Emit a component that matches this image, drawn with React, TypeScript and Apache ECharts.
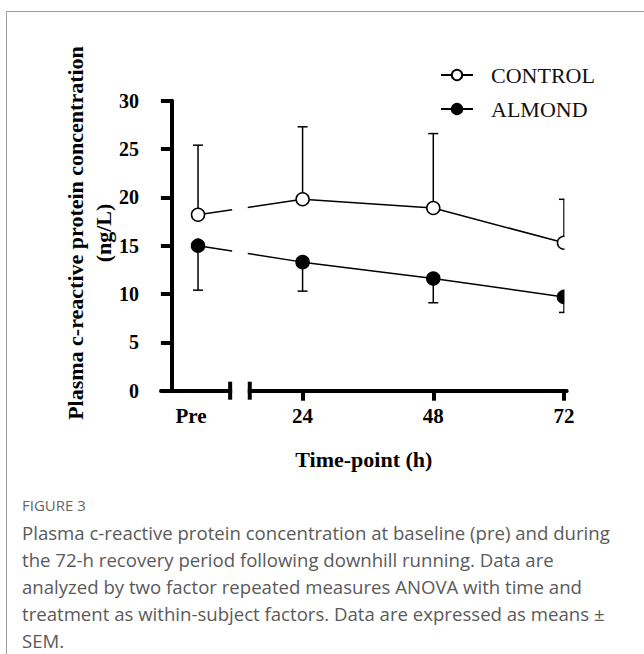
import React, { useEffect, useRef } from 'react';
import * as echarts from 'echarts';

// ---- data ----
const categories = ['Pre', '24', '48', '72'];
// position of each time-point on the broken time axis (Pre sits left of the break)
const timeCoords = [4.8, 24, 48, 72];
const controlMean = [18.2, 19.8, 18.9, 15.3];
const controlSem = [7.2, 7.5, 7.7, 4.5];
const almondMean = [15.0, 13.3, 11.6, 9.7];
const almondSem = [4.6, 3.0, 2.5, 1.6];
const yMin = 0;
const yMax = 30;
const yStep = 5;
const axisBreak = [10.7, 14.3];
const seriesNames = ['CONTROL', 'ALMOND'];
const yTitle = ['Plasma c-reactive protein concentration', '(ng/L)'];
const xTitle = 'Time-point (h)';
const figureLabel = 'FIGURE 3';
const captionLines = [
  'Plasma c-reactive protein concentration at baseline (pre) and during',
  'the 72-h recovery period following downhill running. Data are',
  'analyzed by two factor repeated measures ANOVA with time and',
  'treatment as within-subject factors. Data are expressed as means \u00b1',
  'SEM.',
];

const SERIF = '"Liberation Serif", "Times New Roman", serif';
const SANS = '"Open Sans", "Noto Sans", sans-serif';

function errorBarSeries(name: string, mean: number[], sem: number[], dir: 1 | -1) {
  return {
    name,
    type: 'custom',
    z: 2,
    silent: true,
    data: timeCoords.map((x, i) => [x, mean[i], mean[i] + dir * sem[i]]),
    renderItem: (params: any, api: any) => {
      const x = api.value(0);
      const p0 = api.coord([x, api.value(1)]);
      const p1 = api.coord([x, api.value(2)]);
      const style = { stroke: '#000', lineWidth: 1.5 };
      return {
        type: 'group',
        children: [
          { type: 'line', shape: { x1: p0[0], y1: p0[1], x2: p1[0], y2: p1[1] }, style },
          { type: 'line', shape: { x1: p1[0] - 5, y1: p1[1], x2: p1[0] + 5, y2: p1[1] }, style },
        ],
      };
    },
  };
}

export default function App() {
  const ref = useRef<HTMLDivElement>(null);
  useEffect(() => {
    if (!ref.current) return;
    const chart = echarts.init(ref.current, null, { renderer: 'svg' });
    const option: any = {
      animation: false,
      backgroundColor: '#fff',
      grid: { left: 161, right: 77.3, top: 100.7, bottom: 263.3, containLabel: false },
      legend: {
        orient: 'vertical',
        left: 440,
        top: 64,
        z: 20,
        padding: 0,
        itemWidth: 32,
        itemHeight: 13,
        itemGap: 12,
        data: seriesNames,
        textStyle: { fontFamily: SERIF, fontSize: 22, color: '#111', lineHeight: 22, padding: [0, 0, 0, 13] },
      },
      xAxis: {
        type: 'value',
        min: -2,
        max: 72.5,
        name: xTitle,
        nameLocation: 'middle',
        nameGap: 58,
        nameTextStyle: { fontFamily: SERIF, fontSize: 22, fontWeight: 'bold', color: '#000' },
        axisLine: { show: true, lineStyle: { color: '#000', width: 4 } },
        axisTick: { show: true, length: 10, lineStyle: { color: '#000', width: 4 }, customValues: timeCoords.slice(1) },
        axisLabel: {
          customValues: timeCoords,
          margin: 15,
          fontFamily: SERIF,
          fontSize: 21,
          fontWeight: 'bold',
          color: '#000',
          formatter: (v: number) => {
            const i = timeCoords.indexOf(v);
            const t = i >= 0 ? categories[i] : '';
            return i === 0 ? '{pre|' + t + '}' : t;
          },
          rich: { pre: { fontFamily: SERIF, fontSize: 21, fontWeight: 'bold', color: '#000', padding: [0, 14, 0, 0] } },
        },
        splitLine: { show: false },
      },
      yAxis: [
        {
          type: 'value',
          min: yMin,
          max: yMax,
          interval: yStep,
          axisLine: { show: true, lineStyle: { color: '#000', width: 4 } },
          axisTick: { show: true, length: 11, lineStyle: { color: '#000', width: 4 } },
          axisLabel: { margin: 22, fontFamily: SERIF, fontSize: 20, fontWeight: 'bold', color: '#000' },
          splitLine: { show: false },
        },
        {
          type: 'value',
          position: 'left',
          min: yMin,
          max: yMax,
          interval: yStep,
          axisLine: { show: false },
          axisTick: { show: true, inside: true, length: 11, lineStyle: { color: '#000', width: 4 } },
          axisLabel: { show: false },
          splitLine: { show: false },
        },
      ],
      series: [
        errorBarSeries('controlErr', controlMean, controlSem, 1),
        errorBarSeries('almondErr', almondMean, almondSem, -1),
        {
          name: seriesNames[0],
          type: 'line',
          z: 3,
          data: timeCoords.map((x, i) => [x, controlMean[i]]),
          symbol: 'circle',
          symbolSize: 13,
          itemStyle: { color: '#fff', borderColor: '#000', borderWidth: 1.5 },
          lineStyle: { color: '#000', width: 1.5 },
        },
        {
          name: seriesNames[1],
          type: 'line',
          z: 3,
          data: timeCoords.map((x, i) => [x, almondMean[i]]),
          symbol: 'circle',
          symbolSize: 13,
          itemStyle: { color: '#000', borderColor: '#000', borderWidth: 1.5 },
          lineStyle: { color: '#000', width: 1.5 },
        },
        {
          name: 'axisBreak',
          type: 'custom',
          z: 6,
          silent: true,
          data: [[axisBreak[0], axisBreak[1]]],
          renderItem: (params: any, api: any) => {
            const a = api.coord([api.value(0), yMin]);
            const b = api.coord([api.value(1), yMin]);
            const top = api.coord([api.value(0), yMax])[1];
            const end = api.coord([timeCoords[timeCoords.length - 1], yMin]);
            const tick = { stroke: '#000', lineWidth: 4 };
            return {
              type: 'group',
              children: [
                { type: 'rect', shape: { x: a[0] + 2, y: top - 10, width: b[0] - a[0] - 4, height: a[1] + 4 - top + 10 }, style: { fill: '#fff' } },
                { type: 'rect', shape: { x: end[0] + 0.5, y: top - 10, width: 120, height: end[1] - 2.5 - top + 10 }, style: { fill: '#fff' } },
                { type: 'line', shape: { x1: a[0], y1: a[1] - 9, x2: a[0], y2: a[1] + 9 }, style: tick },
                { type: 'line', shape: { x1: b[0], y1: b[1] - 9, x2: b[0], y2: b[1] + 9 }, style: tick },
              ],
            };
          },
        },
      ],
      graphic: [
        {
          type: 'rect',
          z: -10,
          silent: true,
          shape: { x: 6.5, y: 11.5, width: 800, height: 800 },
          style: { fill: 'none', stroke: '#999', lineWidth: 1 },
        },
        {
          type: 'text',
          x: 75,
          y: 233,
          rotation: Math.PI / 2,
          style: { text: yTitle[0], fontFamily: SERIF, fontSize: 22, fontWeight: 'bold', fill: '#000', align: 'center', verticalAlign: 'middle' },
        },
        {
          type: 'text',
          x: 103,
          y: 233,
          rotation: Math.PI / 2,
          style: { text: yTitle[1], fontFamily: SERIF, fontSize: 22, fontWeight: 'bold', fill: '#000', align: 'center', verticalAlign: 'middle' },
        },
        {
          type: 'text',
          x: 22,
          y: 505,
          style: { text: figureLabel, fontFamily: SANS, fontSize: 15, fill: '#666', align: 'left', verticalAlign: 'middle' },
        },
        ...captionLines.map((t, i) => ({
          type: 'text',
          x: 22,
          y: 532 + i * 27.2,
          style: { text: t, fontFamily: SANS, fontSize: 18.6, fill: '#5a5a5a', align: 'left', verticalAlign: 'middle' },
        })),
      ],
    };
    chart.setOption(option);
    return () => chart.dispose();
  }, []);
  return <div ref={ref} style={{ position: 'absolute', left: 0, top: 0, width: 644, height: 654 }} />;
}
